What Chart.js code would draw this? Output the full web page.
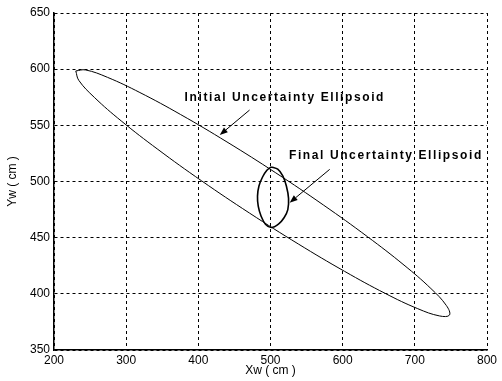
<!DOCTYPE html>
<html>
<head>
<meta charset="utf-8">
<script src="https://cdn.jsdelivr.net/npm/chart.js@4/dist/chart.umd.min.js"></script>
<style>
  html, body { margin: 0; padding: 0; background: #ffffff; }
  #wrap { width: 502px; height: 381px; }
</style>
</head>
<body>
<div id="wrap"><canvas id="c" width="502" height="381"></canvas></div>
<script>
// Axis ticks (cm)
const xTicks = [200, 300, 400, 500, 600, 700, 800];
const yTicks = [350, 400, 450, 500, 550, 600, 650];

// Initial uncertainty ellipsoid outline: from the upper-left tip along the
// upper edge to the lower-right tip, then back along the lower edge
const initialX = [230.2, 243.8, 274.2, 319.0, 375.5, 439.7, 507.3, 573.7, 634.3, 685.0, 722.3, 743.8, 748.0, 734.4, 704.0, 659.2, 602.7, 538.5, 470.9, 404.5, 343.9, 293.2, 255.9, 234.4, 230.2];
const initialY = [598.4, 599.3, 592.7, 579.2, 559.6, 535.2, 507.7, 478.9, 450.9, 425.6, 404.7, 389.5, 381.1, 380.3, 386.8, 400.3, 420.0, 444.4, 471.9, 500.6, 528.6, 553.9, 574.9, 590.0, 598.4];

// Final uncertainty ellipsoid outline, closed loop
const finalX = [501, 510, 517, 522, 525, 524, 519, 511, 501, 493, 487, 483, 482, 484, 489, 495, 501];
const finalY = [513, 511, 505, 496, 485, 475, 468, 462, 459, 462, 469, 478, 487, 496, 504, 510, 513];

// Callout labels (left edge / vertical middle, in axis units)
const noteText = ['Initial Uncertainty Ellipsoid', 'Final Uncertainty Ellipsoid'];
const noteX = [381, 525.6];
const noteY = [574.3, 522.7];

// Callout arrows: tail -> head, in axis units
const arrowTailX = [471, 582];
const arrowTailY = [563.6, 510.8];
const arrowHeadX = [429.7, 526.5];
const arrowHeadY = [541.4, 481.1];

const toPoints = (xs, ys) => xs.map((v, i) => ({ x: v, y: ys[i] }));

const tickFont = { family: '"Liberation Sans", Arial, sans-serif', size: 12 };

const calloutPlugin = {
  id: 'callouts',
  afterDatasetsDraw(chart) {
    const { ctx, scales: { x, y } } = chart;
    ctx.save();
    ctx.fillStyle = '#000';
    ctx.strokeStyle = '#000';
    ctx.font = 'bold 12px "Liberation Sans", Arial, sans-serif';
    if ('letterSpacing' in ctx) ctx.letterSpacing = '1.6px';
    ctx.textAlign = 'left';
    ctx.textBaseline = 'middle';
    noteText.forEach((t, i) => {
      ctx.fillText(t, x.getPixelForValue(noteX[i]), y.getPixelForValue(noteY[i]));
    });
    if ('letterSpacing' in ctx) ctx.letterSpacing = '0px';

    ctx.lineWidth = 1;
    arrowTailX.forEach((_, i) => {
      const x0 = x.getPixelForValue(arrowTailX[i]);
      const y0 = y.getPixelForValue(arrowTailY[i]);
      const x1 = x.getPixelForValue(arrowHeadX[i]);
      const y1 = y.getPixelForValue(arrowHeadY[i]);
      const ang = Math.atan2(y1 - y0, x1 - x0);
      const len = 8, half = 3;
      const bx = x1 - len * Math.cos(ang);
      const by = y1 - len * Math.sin(ang);
      ctx.beginPath();
      ctx.moveTo(x0, y0);
      ctx.lineTo(bx, by);
      ctx.stroke();
      ctx.beginPath();
      ctx.moveTo(x1, y1);
      ctx.lineTo(bx + half * Math.sin(ang), by - half * Math.cos(ang));
      ctx.lineTo(bx - half * Math.sin(ang), by + half * Math.cos(ang));
      ctx.closePath();
      ctx.fill();
    });
    ctx.restore();
  }
};

new Chart(document.getElementById('c'), {
  type: 'scatter',
  data: {
    datasets: [
      {
        label: 'Initial Uncertainty Ellipsoid',
        data: toPoints(initialX, initialY),
        showLine: true,
        borderColor: '#000',
        borderWidth: 1,
        pointRadius: 0,
        tension: 0.4,
        fill: false
      },
      {
        label: 'Final Uncertainty Ellipsoid',
        data: toPoints(finalX, finalY),
        showLine: true,
        borderColor: '#000',
        borderWidth: 1.6,
        pointRadius: 0,
        tension: 0.3,
        fill: false
      }
    ]
  },
  options: {
    responsive: false,
    animation: false,
    events: [],
    layout: { padding: { left: 0, right: 15, top: 13, bottom: 0 } },
    plugins: {
      legend: { display: false },
      tooltip: { enabled: false }
    },
    scales: {
      x: {
        type: 'linear',
        min: xTicks[0],
        max: xTicks[xTicks.length - 1],
        afterBuildTicks: (s) => { s.ticks = xTicks.map(v => ({ value: v })); },
        afterFit: (s) => { s.height = 31; },
        grid: { color: '#000', lineWidth: 1, drawTicks: false },
        border: { display: true, color: '#000', width: 1.5, dash: [3, 3] },
        ticks: { color: '#000', font: tickFont, padding: 3, maxRotation: 0 },
        title: {
          display: true,
          text: 'Xw ( cm )',
          color: '#000',
          font: tickFont,
          padding: { top: 0, bottom: 3 }
        }
      },
      y: {
        type: 'linear',
        min: yTicks[0],
        max: yTicks[yTicks.length - 1],
        afterBuildTicks: (s) => { s.ticks = yTicks.map(v => ({ value: v })); },
        afterFit: (s) => { s.width = 54; },
        grid: { color: '#000', lineWidth: 1, drawTicks: false },
        border: { display: true, color: '#000', width: 1.5, dash: [3, 3] },
        ticks: { color: '#000', font: tickFont, padding: 4 },
        title: {
          display: true,
          text: 'Yw ( cm )',
          color: '#000',
          font: tickFont,
          padding: { top: 5, bottom: 0 }
        }
      }
    }
  },
  plugins: [calloutPlugin]
});
</script>
</body>
</html>
